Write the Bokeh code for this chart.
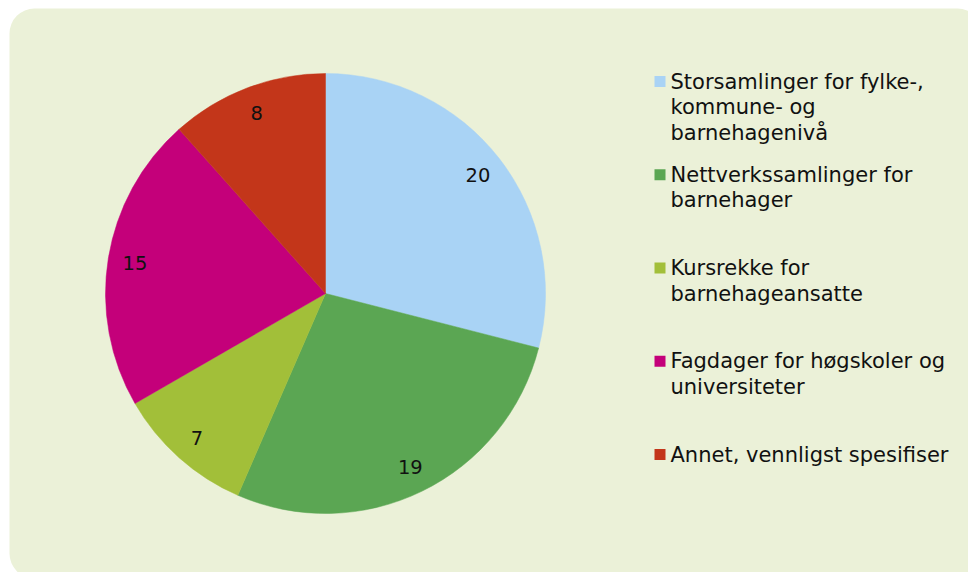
import math
from bokeh.plotting import figure
from bokeh.models import Range1d, BoxAnnotation, ColumnDataSource
from bokeh.core.properties import value
from bokeh.embed import file_html
from bokeh.resources import INLINE

# ---- data ----
categories = [
    "Storsamlinger for fylke-,\nkommune- og\nbarnehagenivå",
    "Nettverkssamlinger for\nbarnehager",
    "Kursrekke for\nbarnehageansatte",
    "Fagdager for høgskoler og\nuniversiteter",
    "Annet, vennligst spesifiser",
]
counts = [20, 19, 7, 15, 8]
colors = ["#A9D3F5", "#5BA653", "#A2BF39", "#C4007A", "#C3361A"]

W, H = 968, 572
p = figure(width=W, height=H, output_backend="svg", toolbar_location=None,
           x_range=Range1d(0, W), y_range=Range1d(0, H),
           x_axis_location=None, y_axis_location=None, min_border=0,
           background_fill_color="white", border_fill_color="white",
           outline_line_color=None)
p.xgrid.visible = False
p.ygrid.visible = False

bg = BoxAnnotation(left=9, right=982, bottom=-6, top=H - 8, border_radius=25,
                   fill_color="#EBF1D8", fill_alpha=1.0, line_color=None,
                   level="underlay")
p.add_layout(bg)

# pie geometry (plot units == pixels)
cx, cy, r = 325, H - 293, 220
total = sum(counts)
starts, ends, mids = [], [], []
a = math.pi / 2
for c in counts:
    span = 2 * math.pi * c / total
    starts.append(a)
    ends.append(a - span)
    mids.append(a - span / 2)
    a -= span

src = ColumnDataSource(dict(start=starts, end=ends, color=colors))
p.wedge(x=cx, y=cy, radius=r, start_angle="start", end_angle="end",
        direction="clock", fill_color="color", line_color="color",
        line_width=0.5, source=src)

lr = 193
lab = ColumnDataSource(dict(
    x=[cx + lr * math.cos(m) for m in mids],
    y=[cy + lr * math.sin(m) for m in mids],
    t=[str(c) for c in counts]))
p.text(x="x", y="y", text="t", source=lab, text_align="center",
       text_baseline="middle", text_font=value("DejaVu Sans"),
       text_font_size="19.5px", text_color="#111111")

# legend
sq_x = 659.5
first_y = H - 81
step = 93.25
line_h = 25.5
sx, sy, tx, ty, tt = [], [], [], [], []
for i, lbl in enumerate(categories):
    yc = first_y - i * step
    sx.append(sq_x)
    sy.append(yc)
    for j, line in enumerate(lbl.split("\n")):
        tx.append(670)
        ty.append(yc - j * line_h)
        tt.append(line)
p.scatter(x=sx, y=sy, marker="square", size=11, fill_color=colors,
          line_color=None)
p.text(x=tx, y=ty, text=tt, text_align="left", text_baseline="middle",
       text_font=value("DejaVu Sans"), text_font_size="21px",
       text_color="#111111")

open("out.html", "w").write(file_html(p, INLINE))
